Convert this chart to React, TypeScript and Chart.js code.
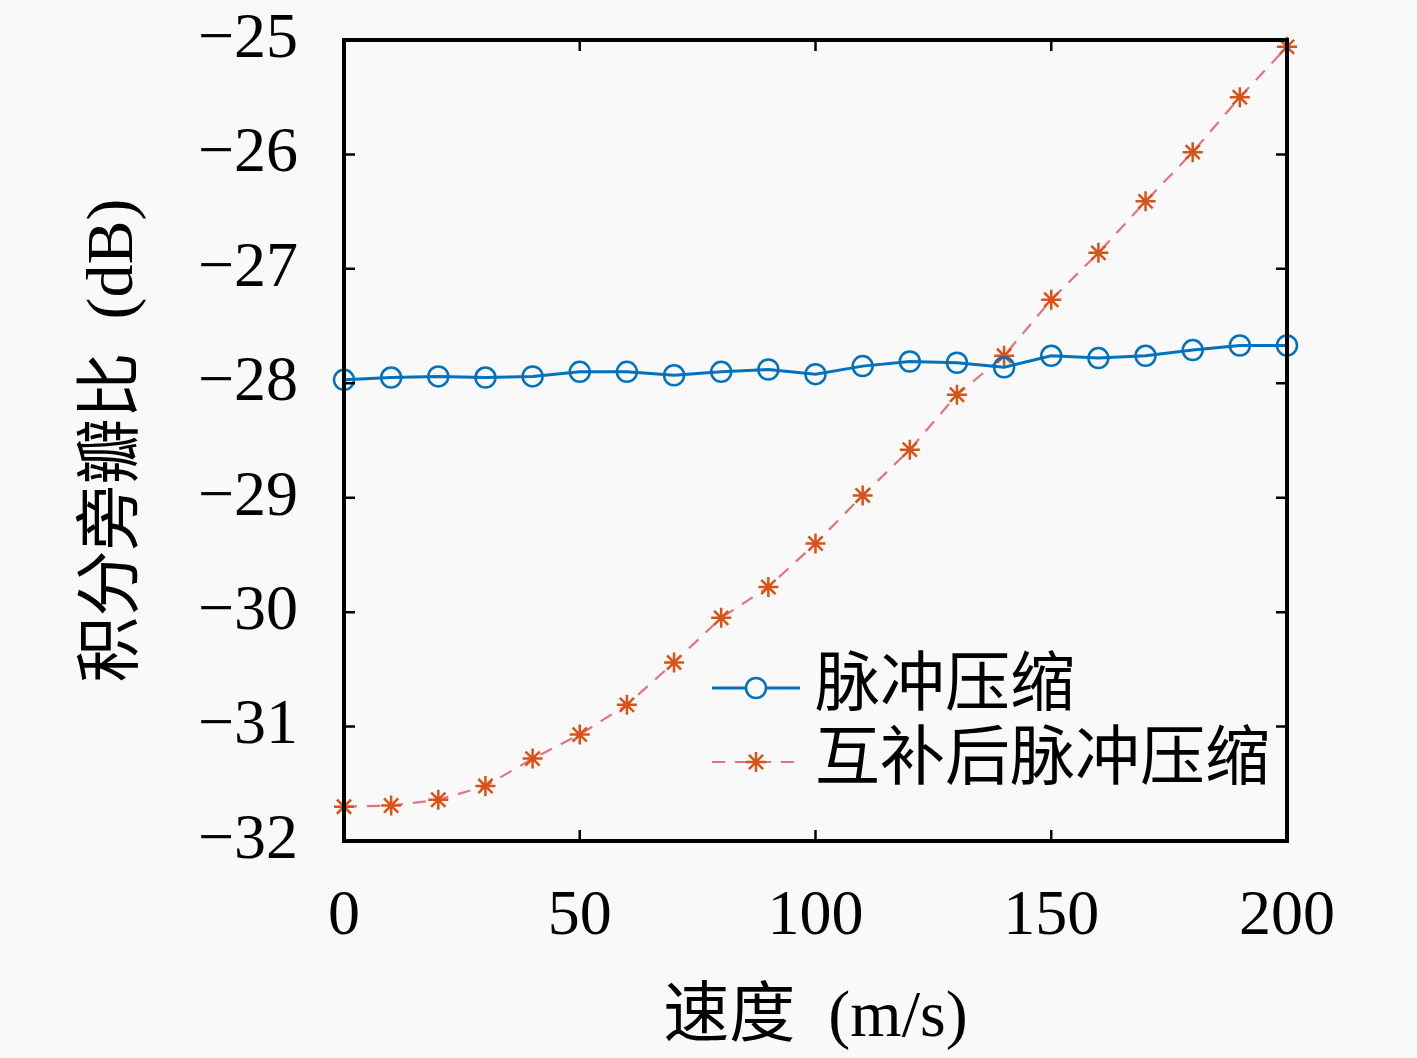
import { Chart, registerables } from "chart.js";
import type { Plugin } from "chart.js";
import React from "react";

Chart.register(...registerables);

const speeds = [0, 10, 20, 30, 40, 50, 60, 70, 80, 90, 100, 110, 120, 130, 140, 150, 160, 170, 180, 190, 200];
const pulseCompression = [
  -27.97, -27.95, -27.94, -27.95, -27.94, -27.9, -27.9, -27.93, -27.9, -27.88, -27.92,
  -27.85, -27.81, -27.82, -27.86, -27.76, -27.78, -27.76, -27.71, -27.67, -27.67,
];
const complementaryPulse = [
  -31.7, -31.69, -31.64, -31.52, -31.28, -31.07, -30.81, -30.44, -30.05, -29.78, -29.4,
  -28.98, -28.58, -28.1, -27.76, -27.27, -26.86, -26.41, -25.98, -25.5, -25.06,
];
const seriesLabels = ["脉冲压缩", "互补后脉冲压缩"];
const xTicks = [0, 50, 100, 150, 200];
const yTicks = [-32, -31, -30, -29, -28, -27, -26, -25];

const BLUE = "#0072BD";
const ORANGE = "#D95319";
const BG = "#f9f9f9";
const FONT = '"Liberation Serif", "Noto Sans CJK SC", serif';

function drawStar(ctx: CanvasRenderingContext2D, cx: number, cy: number, rad: number) {
  ctx.beginPath();
  for (let k = 0; k < 4; k++) {
    const a = (k * Math.PI) / 4;
    ctx.moveTo(cx - Math.cos(a) * rad, cy - Math.sin(a) * rad);
    ctx.lineTo(cx + Math.cos(a) * rad, cy + Math.sin(a) * rad);
  }
  ctx.stroke();
}

const framePlugin: Plugin<"line"> = {
  id: "frame",
  beforeDraw(chart) {
    const { ctx, width, height } = chart;
    ctx.save();
    ctx.fillStyle = BG;
    ctx.fillRect(0, 0, width, height);
    ctx.restore();
  },
  afterDraw(chart) {
    const { ctx, chartArea } = chart;
    const { left, right, top, bottom } = chartArea;
    const xs = chart.scales.x;
    const ys = chart.scales.y;
    ctx.save();
    ctx.strokeStyle = "#000";
    ctx.lineWidth = 2.5;
    const tl = 11;
    ctx.beginPath();
    for (const v of xTicks) {
      const px = xs.getPixelForValue(v);
      ctx.moveTo(px, bottom);
      ctx.lineTo(px, bottom - tl);
      ctx.moveTo(px, top);
      ctx.lineTo(px, top + tl);
    }
    for (const v of yTicks) {
      const py = ys.getPixelForValue(v);
      ctx.moveTo(left, py);
      ctx.lineTo(left + tl, py);
      ctx.moveTo(right, py);
      ctx.lineTo(right - tl, py);
    }
    ctx.stroke();
    ctx.lineWidth = 4;
    ctx.strokeRect(left, top, right - left, bottom - top);

    // legend
    const rows = [
      { y: 688, color: BLUE, dash: [] as number[], marker: "circle" },
      { y: 762, color: ORANGE, dash: [13, 10], marker: "star" },
    ];
    rows.forEach((r, i) => {
      ctx.strokeStyle = r.marker === "circle" ? BLUE : "rgba(226,100,110,0.9)";
      ctx.lineWidth = r.marker === "circle" ? 3 : 2.2;
      ctx.setLineDash(r.dash);
      ctx.beginPath();
      ctx.moveTo(712, r.y);
      ctx.lineTo(800, r.y);
      ctx.stroke();
      ctx.setLineDash([]);
      ctx.lineWidth = 2.5;
      ctx.strokeStyle = r.color;
      const cx = 756;
      if (r.marker === "circle") {
        ctx.fillStyle = BG;
        ctx.beginPath();
        ctx.arc(cx, r.y, 10, 0, Math.PI * 2);
        ctx.fill();
        ctx.stroke();
      } else {
        drawStar(ctx, cx, r.y, 10);
      }
      ctx.fillStyle = "#000";
      ctx.font = `65px ${FONT}`;
      ctx.textBaseline = "middle";
      ctx.textAlign = "left";
      ctx.fillText(seriesLabels[i], 815, r.y);
    });
    ctx.restore();
  },
};

export default function App(): JSX.Element {
  const canvasRef = React.useRef<HTMLCanvasElement>(null);

  React.useEffect(() => {
    if (canvasRef.current === null) return;
    const chart = new Chart(canvasRef.current, {
      type: "line",
      data: {
        datasets: [
          {
            label: seriesLabels[0],
            data: speeds.map((s, i) => ({ x: s, y: pulseCompression[i] })),
            borderColor: BLUE,
            borderWidth: 3,
            pointStyle: "circle",
            pointRadius: 10,
            pointBorderWidth: 2.5,
            pointBorderColor: BLUE,
            pointBackgroundColor: "rgba(0,0,0,0)",
            tension: 0,
            clip: false,
          },
          {
            label: seriesLabels[1],
            data: speeds.map((s, i) => ({ x: s, y: complementaryPulse[i] })),
            borderColor: "rgba(226,100,110,0.9)",
            borderWidth: 2.2,
            borderDash: [13, 10],
            pointStyle: "star",
            pointRadius: 10,
            pointBorderWidth: 2.5,
            pointBorderColor: ORANGE,
            pointBackgroundColor: ORANGE,
            tension: 0,
            clip: false,
          },
        ],
      },
      options: {
        animation: false,
        responsive: true,
        maintainAspectRatio: false,
        layout: { padding: { top: 40, right: 130, left: 0, bottom: 0 }, autoPadding: false },
        plugins: { legend: { display: false }, tooltip: { enabled: false } },
        scales: {
          x: {
            type: "linear",
            min: 0,
            max: 200,
            afterFit: (scale) => {
              scale.height = 217;
              scale.paddingLeft = 0;
              scale.paddingRight = 0;
            },
            afterBuildTicks: (scale) => {
              scale.ticks = xTicks.map((v) => ({ value: v }));
            },
            grid: { display: false, drawTicks: false },
            border: { display: false },
            ticks: {
              color: "#000",
              font: { family: FONT, size: 64 },
              padding: 38,
              maxRotation: 0,
            },
            title: {
              display: true,
              text: "速度\u2002(m/s)",
              color: "#000",
              font: { family: FONT, size: 66 },
              padding: { top: 0, bottom: 0 },
            },
          },
          y: {
            type: "linear",
            min: -32,
            max: -25,
            afterFit: (scale) => {
              scale.width = 344;
              scale.paddingTop = 0;
              scale.paddingBottom = 0;
            },
            afterBuildTicks: (scale) => {
              scale.ticks = yTicks.map((v) => ({ value: v }));
            },
            grid: { display: false, drawTicks: false },
            border: { display: false },
            ticks: {
              color: "#000",
              font: { family: FONT, size: 64 },
              padding: 46,
              callback: (v) => String(v).replace("-", "\u2212"),
            },
            title: {
              display: true,
              text: "积分旁瓣比\u2002(dB)",
              color: "#000",
              font: { family: FONT, size: 66 },
              padding: { top: 75, bottom: 0 },
            },
          },
        },
      },
      plugins: [framePlugin],
    });
    return () => {
      chart.destroy();
    };
  }, []);

  return (
    <div style={{ position: "absolute", left: 0, top: 0, width: 1417, height: 1058 }}>
      <canvas ref={canvasRef} />
    </div>
  );
}
